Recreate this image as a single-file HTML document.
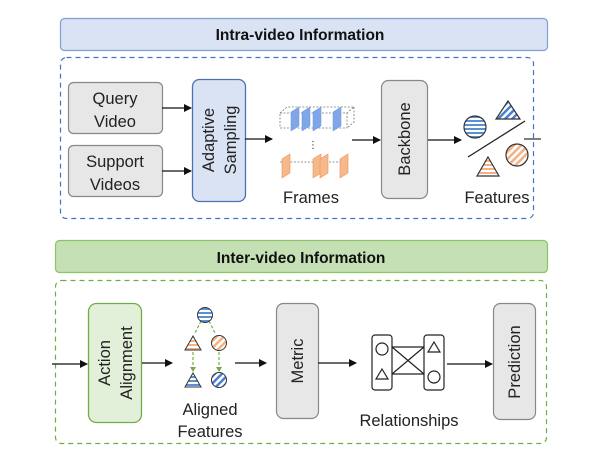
<!DOCTYPE html>
<html><head><meta charset="utf-8"><style>
html,body{margin:0;padding:0;background:#fff;}
svg{display:block;font-family:"Liberation Sans","DejaVu Sans",sans-serif;}
</style></head><body>
<svg width="610" height="464" viewBox="0 0 610 464" xmlns="http://www.w3.org/2000/svg">
<defs>
<marker id="ar" markerWidth="8" markerHeight="8" refX="7" refY="4" orient="auto" markerUnits="userSpaceOnUse">
<path d="M0,0 L8,4 L0,8 z" fill="#111"/></marker>
<pattern id="hb" width="4" height="4" patternUnits="userSpaceOnUse"><rect width="4" height="4" fill="#fff"/><rect width="4" height="2" fill="#5b8fd6"/></pattern>
<pattern id="ho" width="4" height="4" patternUnits="userSpaceOnUse"><rect width="4" height="4" fill="#fff"/><rect width="4" height="2" fill="#f4b183"/></pattern>
<pattern id="db" width="5" height="5" patternUnits="userSpaceOnUse" patternTransform="rotate(45)"><rect width="5" height="5" fill="#fff"/><rect width="2.5" height="5" fill="#4a7fd0"/></pattern>
<pattern id="do" width="5" height="5" patternUnits="userSpaceOnUse" patternTransform="rotate(45)"><rect width="5" height="5" fill="#fff"/><rect width="2.5" height="5" fill="#f4b183"/></pattern>
</defs>

<!-- Top -->
<rect x="60.5" y="18.5" width="487" height="32" rx="4" fill="#dae3f3" stroke="#7f9fd6" stroke-width="1.2"/>
<text x="300" y="40" font-size="15.5" font-weight="bold" text-anchor="middle" fill="#111">Intra-video Information</text>
<rect x="60.5" y="57.5" width="473" height="161" rx="6" fill="none" stroke="#4472c4" stroke-width="1.2" stroke-dasharray="5,4"/>

<rect x="68.5" y="82.5" width="94" height="51" rx="5" fill="#e7e7e7" stroke="#888" stroke-width="1.2"/>
<text x="115" y="104" font-size="16.5" text-anchor="middle" fill="#222">Query</text>
<text x="115" y="127" font-size="16.5" text-anchor="middle" fill="#222">Video</text>
<rect x="68.5" y="145.5" width="94" height="51" rx="5" fill="#e7e7e7" stroke="#888" stroke-width="1.2"/>
<text x="115" y="167" font-size="16.5" text-anchor="middle" fill="#222">Support</text>
<text x="115" y="190" font-size="16.5" text-anchor="middle" fill="#222">Videos</text>
<line x1="162" y1="108" x2="191" y2="108" stroke="#111" stroke-width="1.3" marker-end="url(#ar)"/>
<line x1="162" y1="171" x2="191" y2="171" stroke="#111" stroke-width="1.3" marker-end="url(#ar)"/>
<rect x="192.5" y="79.5" width="53" height="122" rx="7" fill="#dae3f3" stroke="#4a72b8" stroke-width="1.3"/>
<text transform="translate(214,140) rotate(-90)" font-size="16.5" text-anchor="middle" fill="#222">Adaptive</text>
<text transform="translate(236,140) rotate(-90)" font-size="16.5" text-anchor="middle" fill="#222">Sampling</text>
<line x1="245" y1="139" x2="272" y2="139" stroke="#111" stroke-width="1.3" marker-end="url(#ar)"/>

<!-- frames -->
<g stroke="#777" stroke-width="0.8" stroke-dasharray="2,1.5" fill="none">
<rect x="280" y="113" width="67" height="15"/>
<path d="M280,113 L287,107 L354,107 L347,113 M354,107 L354,122 L347,128"/>
<path d="M280,162 L348,162"/>
</g>
<g fill="#7ea6e8" stroke="#6b93d8" stroke-width="0.5">
<path d="M291,112 L299,107 L299,126 L291,131 z"/>
<path d="M302,112 L310,107 L310,126 L302,131 z"/>
<path d="M313,112 L321,107 L321,126 L313,131 z"/>
<path d="M333,112 L341,107 L341,126 L333,131 z"/>
</g>
<g fill="#f8b98a" stroke="#e8925a" stroke-width="0.6">
<path d="M282,159 L290,154 L290,173 L282,178 z"/>
<path d="M313,159 L321,154 L321,173 L313,178 z"/>
<path d="M320,159 L328,154 L328,173 L320,178 z"/>
<path d="M340,159 L348,154 L348,173 L340,178 z"/>
</g>
<text x="313" y="148" font-size="10" text-anchor="middle" fill="#333">⋮</text>
<text x="311" y="203" font-size="16.5" text-anchor="middle" fill="#222">Frames</text>
<line x1="352" y1="140" x2="380" y2="140" stroke="#111" stroke-width="1.3" marker-end="url(#ar)"/>

<rect x="381.5" y="80.5" width="46" height="118" rx="7" fill="#e7e7e7" stroke="#888" stroke-width="1.2"/>
<text transform="translate(410,139) rotate(-90)" font-size="16.5" text-anchor="middle" fill="#222">Backbone</text>
<line x1="428" y1="140" x2="461" y2="140" stroke="#111" stroke-width="1.3" marker-end="url(#ar)"/>

<!-- features -->
<circle cx="475" cy="127" r="11" fill="url(#hb)" stroke="#333" stroke-width="1.2"/>
<path d="M508,101 L520,119 L496,119 z" fill="url(#db)" stroke="#333" stroke-width="1.2"/>
<line x1="468" y1="157" x2="525" y2="121" stroke="#222" stroke-width="1.3"/>
<path d="M488,157 L499,176 L477,176 z" fill="url(#ho)" stroke="#333" stroke-width="1.2"/>
<circle cx="517" cy="155" r="11" fill="url(#do)" stroke="#333" stroke-width="1.2"/>
<line x1="524" y1="139" x2="541" y2="139" stroke="#333" stroke-width="1.3"/>
<text x="497" y="203" font-size="16.5" text-anchor="middle" fill="#222">Features</text>

<!-- Bottom -->
<rect x="55.5" y="240.5" width="492" height="32" rx="4" fill="#c5e0b4" stroke="#8cc46a" stroke-width="1.2"/>
<text x="301" y="263" font-size="15.5" font-weight="bold" text-anchor="middle" fill="#111">Inter-video Information</text>
<rect x="55.5" y="280.5" width="491" height="163" rx="6" fill="none" stroke="#70ad47" stroke-width="1.2" stroke-dasharray="5,4"/>

<line x1="52" y1="364" x2="87" y2="364" stroke="#111" stroke-width="1.3" marker-end="url(#ar)"/>
<rect x="88.5" y="303.5" width="53" height="119" rx="8" fill="#e2f0d9" stroke="#70ad47" stroke-width="1.3"/>
<text transform="translate(110,363) rotate(-90)" font-size="16.5" text-anchor="middle" fill="#222">Action</text>
<text transform="translate(132,363) rotate(-90)" font-size="16.5" text-anchor="middle" fill="#222">Alignment</text>
<line x1="142" y1="363" x2="172" y2="363" stroke="#111" stroke-width="1.3" marker-end="url(#ar)"/>

<g stroke="#70ad47" stroke-width="1.2" stroke-dasharray="3,2" fill="none">
<line x1="201" y1="321" x2="195" y2="333"/>
<line x1="209" y1="321" x2="215" y2="333"/>
<line x1="193" y1="352" x2="193" y2="368"/>
<line x1="219" y1="352" x2="219" y2="368"/>
</g>
<path d="M190,367 L196,367 L193,372 z M216,367 L222,367 L219,372 z" fill="#70ad47"/>
<circle cx="205" cy="315" r="7.5" fill="url(#hb)" stroke="#333" stroke-width="1"/>
<path d="M193,336 L201,350 L185,350 z" fill="url(#ho)" stroke="#333" stroke-width="1"/>
<circle cx="219" cy="343" r="7.5" fill="url(#do)" stroke="#333" stroke-width="1"/>
<path d="M193,373 L201,387 L185,387 z" fill="url(#hb)" stroke="#333" stroke-width="1"/>
<circle cx="219" cy="380" r="7.5" fill="url(#db)" stroke="#333" stroke-width="1"/>
<text x="210" y="415" font-size="16.5" text-anchor="middle" fill="#222">Aligned</text>
<text x="210" y="437" font-size="16.5" text-anchor="middle" fill="#222">Features</text>
<line x1="235" y1="363" x2="266" y2="363" stroke="#111" stroke-width="1.3" marker-end="url(#ar)"/>

<rect x="276.5" y="303.5" width="42" height="115" rx="7" fill="#e7e7e7" stroke="#888" stroke-width="1.2"/>
<text transform="translate(303,361) rotate(-90)" font-size="16.5" text-anchor="middle" fill="#222">Metric</text>
<line x1="318" y1="363" x2="356" y2="363" stroke="#111" stroke-width="1.3" marker-end="url(#ar)"/>

<g stroke="#222" stroke-width="1.2" fill="none">
<rect x="372" y="335" width="20" height="55" rx="3"/>
<rect x="424" y="335" width="20" height="55" rx="3"/>
<line x1="392" y1="347" x2="424" y2="347"/>
<line x1="392" y1="374" x2="424" y2="374"/>
<line x1="392" y1="347" x2="424" y2="374"/>
<line x1="392" y1="374" x2="424" y2="347"/>
<circle cx="382" cy="349" r="6"/>
<path d="M382,369 L388,379 L376,379 z"/>
<path d="M434,342 L440,352 L428,352 z"/>
<circle cx="434" cy="377" r="6"/>
</g>
<text x="409" y="426" font-size="16.5" text-anchor="middle" fill="#222">Relationships</text>
<line x1="447" y1="364" x2="492" y2="364" stroke="#111" stroke-width="1.3" marker-end="url(#ar)"/>

<rect x="493.5" y="303.5" width="42" height="116" rx="7" fill="#e7e7e7" stroke="#888" stroke-width="1.2"/>
<text transform="translate(520,362) rotate(-90)" font-size="16.5" text-anchor="middle" fill="#222">Prediction</text>
</svg>
</body></html>
